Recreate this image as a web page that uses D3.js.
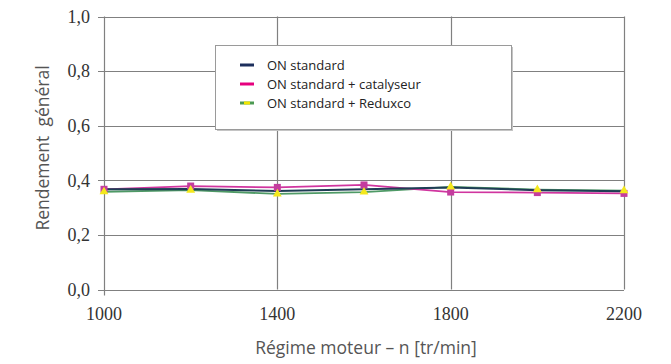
<!DOCTYPE html>
<html lang="fr">
<head>
<meta charset="utf-8">
<title>Rendement général</title>
<script src="https://d3js.org/d3.v7.min.js"></script>
<style>
    body { margin: 0; background: #fff; }
    svg { display: block; }
    .tick-lbl { font-family: "Liberation Serif", serif; font-size: 18px; fill: #333; }
    .title { font-family: "Open Sans", sans-serif; font-size: 17.5px; fill: #555; }
    .leg { font-family: "Open Sans", sans-serif; font-size: 13px; fill: #222; }
</style>
</head>
<body>
<div id="chart"></div>
<script>
    var width = 671, height = 364;

    // régime moteur (tr/min)
    var regimes = [1000, 1200, 1400, 1600, 1800, 2000, 2200];
    var xTicks = [1000, 1400, 1800, 2200];
    var yTicks = [0, 0.2, 0.4, 0.6, 0.8, 1.0];

    // rendement général
    var onStandard   = [0.367, 0.368, 0.361, 0.367, 0.374, 0.364, 0.360];
    var onCatalyseur = [0.367, 0.379, 0.374, 0.383, 0.357, 0.355, 0.352];
    var onReduxco    = [0.358, 0.364, 0.350, 0.357, 0.376, 0.366, 0.362];

    var legendLabels = ["ON standard", "ON standard + catalyseur", "ON standard + Reduxco"];

    var x = d3.scaleLinear().domain([1000, 2200]).range([104, 624]);
    var y = d3.scaleLinear().domain([0, 1]).range([289.5, 16.5]);

    var svg = d3.select("#chart").append("svg")
        .attr("width", width)
        .attr("height", height);

    var grid = svg.append("g");

    // horizontal grid lines (with small tick to the left)
    grid.selectAll("line.h")
        .data(yTicks)
        .enter().append("line")
        .attr("x1", x(1000) - 6)
        .attr("x2", x(2200))
        .attr("y1", function(d) { return Math.round(y(d)) + 0.5; })
        .attr("y2", function(d) { return Math.round(y(d)) + 0.5; })
        .attr("stroke", "#808080")
        .attr("stroke-width", 1.2);

    // vertical grid lines
    grid.selectAll("line.v")
        .data(xTicks)
        .enter().append("line")
        .attr("x1", function(d) { return Math.round(x(d)) + 0.5; })
        .attr("x2", function(d) { return Math.round(x(d)) + 0.5; })
        .attr("y1", y(1))
        .attr("y2", function(d) { return d === 1000 ? y(0) + 6 : y(0); })
        .attr("stroke", "#808080")
        .attr("stroke-width", 1.2);

    // tick labels
    svg.selectAll("text.ylbl")
        .data(yTicks)
        .enter().append("text")
        .attr("class", "tick-lbl")
        .attr("x", 90)
        .attr("y", function(d) { return y(d); })
        .attr("dy", "0.35em")
        .attr("text-anchor", "end")
        .text(function(d) { return d3.format(".1f")(d).replace(".", ","); });

    svg.selectAll("text.xlbl")
        .data(xTicks)
        .enter().append("text")
        .attr("class", "tick-lbl")
        .attr("x", function(d) { return x(d); })
        .attr("y", 320)
        .attr("text-anchor", "middle")
        .text(function(d) { return d; });

    // axis titles
    svg.append("text")
        .attr("class", "title")
        .attr("x", 366)
        .attr("y", 354)
        .attr("text-anchor", "middle")
        .text("Régime moteur – n [tr/min]");

    svg.append("text")
        .attr("class", "title")
        .attr("transform", "translate(49,148) rotate(-90)")
        .attr("text-anchor", "middle")
        .attr("xml:space", "preserve")
        .text("Rendement  général");

    // legend box
    var leg = svg.append("g");
    leg.append("rect")
        .attr("x", 217).attr("y", 47)
        .attr("width", 296).attr("height", 84)
        .attr("fill", "#c4c4c4");
    leg.append("rect")
        .attr("x", 215.5).attr("y", 45.5)
        .attr("width", 296).attr("height", 84)
        .attr("fill", "#fff")
        .attr("stroke", "#9a9a9a");

    var legColors = ["#1c2f5c", "#e6007e", "#4c9a52"];
    legendLabels.forEach(function(lbl, i) {
        var ly = 65 + i * 19;
        leg.append("line")
            .attr("x1", 240).attr("x2", 254)
            .attr("y1", ly).attr("y2", ly)
            .attr("stroke", legColors[i])
            .attr("stroke-width", 3);
        if (i === 2) {
            leg.append("line")
                .attr("x1", 244).attr("x2", 250)
                .attr("y1", ly).attr("y2", ly)
                .attr("stroke", "#f2e600")
                .attr("stroke-width", 3);
        }
        leg.append("text")
            .attr("class", "leg")
            .attr("x", 267)
            .attr("y", ly)
            .attr("dy", "0.35em")
            .text(lbl);
    });

    // series lines
    var line = d3.line()
        .x(function(d, i) { return x(regimes[i]); })
        .y(function(d) { return y(d); });

    svg.append("path").datum(onReduxco)
        .attr("d", line).attr("fill", "none")
        .attr("stroke", "#4f9a66").attr("stroke-width", 1.8);
    svg.append("path").datum(onCatalyseur)
        .attr("d", line).attr("fill", "none")
        .attr("stroke", "#d0359f").attr("stroke-width", 1.8);
    svg.append("path").datum(onStandard)
        .attr("d", line).attr("fill", "none")
        .attr("stroke", "#1f3d55").attr("stroke-width", 2);

    // markers
    svg.selectAll("rect.cat")
        .data(onCatalyseur)
        .enter().append("rect")
        .attr("x", function(d, i) { return x(regimes[i]) - 3.5; })
        .attr("y", function(d) { return y(d) - 3.5; })
        .attr("width", 7).attr("height", 7)
        .attr("fill", "#c43c9e");

    var tri = d3.symbol().type(d3.symbolTriangle).size(34);
    svg.selectAll("path.red")
        .data(onReduxco)
        .enter().append("path")
        .attr("d", tri)
        .attr("transform", function(d, i) { return "translate(" + x(regimes[i]) + "," + y(d) + ")"; })
        .attr("fill", "#f4e81c");
</script>
</body>
</html>
